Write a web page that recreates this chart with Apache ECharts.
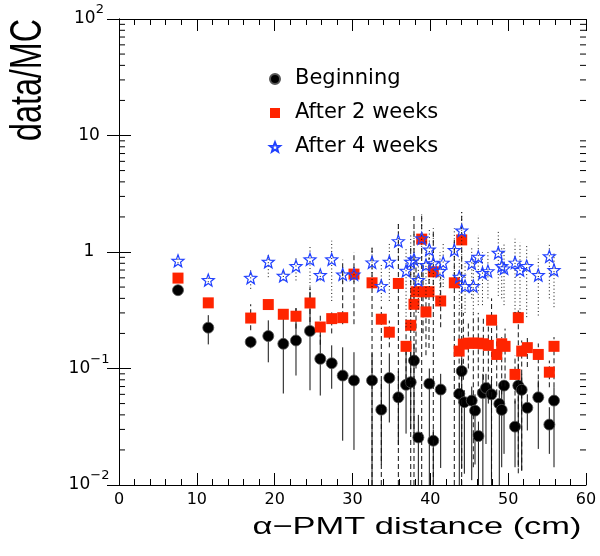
<!DOCTYPE html>
<html><head><meta charset="utf-8">
<script src="https://cdn.jsdelivr.net/npm/echarts@6/dist/echarts.min.js"></script>
<style>html,body{margin:0;padding:0;background:#fff}#c{width:600px;height:556px}</style>
</head><body><div id="c"></div>
<script>
// ---- data ----
const seriesNames = ['Beginning', 'After 2 weeks', 'After 4 weeks'];

const begX  = [7.58,11.47,16.92,19.18,21.11,22.74,24.54,25.86,27.33,28.74,30.19,32.51,33.70,34.73,35.89,36.88,37.48,37.90,38.46,39.87,40.38,41.33,43.72,44.03,44.37,45.32,45.74,46.18,46.75,47.15,47.85,48.86,49.17,49.47,50.88,51.30,51.74,52.46,53.87,55.29,55.89];
const begY  = [0.47,0.224,0.169,0.19,0.163,0.174,0.21,0.121,0.111,0.087,0.079,0.079,0.0443,0.083,0.0566,0.0724,0.0763,0.117,0.0256,0.0741,0.024,0.066,0.0606,0.095,0.0514,0.053,0.0435,0.0263,0.0616,0.068,0.060,0.0497,0.0441,0.0713,0.0317,0.0713,0.0656,0.046,0.0566,0.033,0.053];
const begLo = [0.44,0.161,0.149,0.113,0.061,0.087,0.065,0.0586,0.067,0.024,0.02,0.01,0.015,0.0344,0.022,0.0276,0.03,0.0276,0.01,0.01,0.01,0.014,0.01,0.014,0.0125,0.011,0.015,0.01,0.01,0.0225,0.011,0.01,0.0142,0.0185,0.0142,0.0142,0.0133,0.0294,0.0204,0.0185,0.0142];
const begHi = [0.50,0.287,0.187,0.259,0.27,0.329,0.455,0.193,0.158,0.152,0.138,0.135,0.079,0.135,0.095,0.152,0.14,0.164,0.04,0.10,0.03,0.09,0.075,0.125,0.065,0.07,0.06,0.035,0.09,0.09,0.079,0.065,0.065,0.079,0.053,0.11,0.09,0.06,0.079,0.0465,0.069];

const wk2X  = [7.58,11.47,16.92,19.18,21.11,22.74,24.54,25.86,27.33,28.74,30.19,32.51,33.70,34.73,35.89,36.88,37.48,37.90,38.16,38.89,39.06,39.44,39.83,40.38,41.33,43.08,44.03,43.70,44.24,44.88,45.52,46.16,46.81,47.45,47.87,48.53,49.17,49.60,50.88,51.30,51.74,52.46,53.87,55.29,55.89];
const wk2Y  = [0.597,0.366,0.271,0.354,0.292,0.281,0.365,0.227,0.268,0.273,0.646,0.544,0.265,0.205,0.537,0.155,0.235,0.356,0.456,1.29,0.456,0.306,0.456,0.676,0.38,0.544,1.27,0.141,0.162,0.165,0.165,0.165,0.163,0.158,0.26,0.132,0.163,0.155,0.089,0.273,0.141,0.151,0.132,0.093,0.155];
const wk2Lo = [0.57,0.34,0.213,0.33,0.27,0.22,0.25,0.16,0.2,0.24,0.24,0.01,0.01,0.152,0.01,0.069,0.01,0.01,0.1,0.01,0.2,0.13,0.15,0.01,0.226,0.01,0.01,0.05,0.08,0.1,0.0142,0.06,0.08,0.05,0.01,0.06,0.06,0.07,0.05,0.0126,0.0133,0.103,0.069,0.069,0.069];
const wk2Hi = [0.62,0.39,0.356,0.38,0.31,0.33,0.5,0.30,0.32,0.86,1.0,1.1,0.34,0.258,1.8,0.243,1.1,2.1,0.9,2.1,0.8,0.5,0.9,1.6,0.61,1.3,2.2,0.3,0.3,0.25,0.297,0.3,0.28,0.25,0.4,0.25,0.186,0.22,0.13,0.315,0.174,0.186,0.164,0.117,0.186];

const wk4X  = [7.58,11.47,16.92,19.18,21.11,22.74,24.54,25.86,27.33,28.74,30.19,32.51,33.70,34.73,35.89,36.88,37.48,37.90,38.46,38.89,39.44,39.87,40.38,41.24,41.65,43.08,44.03,43.72,44.46,45.32,45.52,46.16,46.70,47.40,48.73,49.17,49.47,50.88,51.52,52.38,53.87,55.29,55.89];
const wk4Y  = [0.841,0.574,0.60,0.825,0.625,0.757,0.865,0.634,0.865,0.642,0.642,0.815,0.512,0.825,1.24,0.69,0.825,0.865,0.574,1.31,0.773,1.05,0.80,0.686,0.81,1.04,1.53,0.613,0.51,0.80,0.51,0.91,0.66,0.685,0.986,0.757,0.723,0.81,0.70,0.757,0.634,0.92,0.70];
const wk4Lo = [0.80,0.55,0.483,0.608,0.57,0.57,0.44,0.57,0.38,0.55,0.55,0.50,0.38,0.38,0.85,0.226,0.21,0.4,0.3,0.9,0.4,0.5,0.4,0.35,0.5,0.6,0.31,0.3,0.3,0.4,0.3,0.35,0.35,0.4,0.42,0.4,0.35,0.3,0.3,0.276,0.285,0.4,0.336];
const wk4Hi = [0.88,0.60,0.694,0.965,0.68,0.90,1.14,0.69,1.25,0.75,0.75,1.1,0.80,1.18,1.8,1.1,1.44,1.6,0.9,2.1,1.3,1.6,1.5,1.0,1.2,1.6,2.2,0.9,0.8,1.1,0.9,1.4,1.0,1.0,1.53,1.1,1.2,1.3,1.2,1.18,0.93,1.2,1.0];

const xMin = 0, xMax = 60, xStep = 10;
const yMin = 0.01, yMax = 100;
const yTickLabels = [['10','\u22122'], ['10','\u22121'], ['1',''], ['10',''], ['10','2']];
const xTitle = '\u03b1\u2212PMT distance (cm)';
const yTitle = 'data/MC';

// ---- chart ----
const FONT = 'DejaVu Sans';
const starPath = 'path://M12,2 L14.47,8.6 L21.51,8.91 L15.99,13.3 L17.88,20.09 L12,16.2 L6.12,20.09 L8.01,13.3 L2.49,8.91 L9.53,8.6 Z';

// log-axis minor ticks (2..9 x 10^k)
const yMinor = [];
for (let k = -2; k <= 1; k++) for (let m = 2; m <= 9; m++) yMinor.push(m * Math.pow(10, k));

function errSeries(name, xs, lo, hi, dash, z) {
  return {
    type: 'custom', name: name, silent: true, clip: true, z: z,
    data: xs.map((x, i) => [x, lo[i], hi[i]]),
    encode: { x: 0, y: [1, 2] },
    renderItem: function (params, api) {
      const a = api.coord([api.value(0), api.value(1)]);
      const b = api.coord([api.value(0), api.value(2)]);
      return { type: 'line', shape: { x1: a[0], y1: a[1], x2: b[0], y2: b[1] },
        style: { stroke: '#111', lineWidth: 1, lineDash: dash } };
    }
  };
}

const measure = document.createElement('canvas').getContext('2d');
measure.font = '24px "Liberation Sans"';
const xTitleW = measure.measureText(xTitle).width;
measure.font = '32px "Liberation Sans"';
const yTitleW = measure.measureText(yTitle).width;

const tickStyle = { color: '#000', width: 1 };
const chart = echarts.init(document.getElementById('c'), null, { renderer: 'canvas' });
chart.setOption({
  animation: false,
  backgroundColor: '#fff',
  grid: { left: 119, right: 14, top: 19, bottom: 71 },
  legend: {
    data: [
      { name: seriesNames[0], icon: 'circle' },
      { name: seriesNames[1], icon: 'rect' },
      { name: seriesNames[2], icon: starPath }
    ],
    orient: 'vertical', left: 269, top: 67, padding: 0, itemGap: 10,
    itemWidth: 10, itemHeight: 10, selectedMode: false,
    textStyle: { fontFamily: FONT, fontSize: 21, color: '#000', lineHeight: 24, padding: [0, 0, 0, 10] }
  },
  xAxis: [
    { type: 'value', min: xMin, max: xMax, interval: xStep,
      axisLine: { lineStyle: tickStyle },
      axisTick: { inside: true, length: 12, lineStyle: tickStyle },
      minorTick: { show: true, splitNumber: 5, length: 6, lineStyle: tickStyle },
      splitLine: { show: false }, minorSplitLine: { show: false },
      axisLabel: { fontFamily: FONT, fontSize: 16, color: '#000', margin: 7 } },
    { type: 'value', position: 'top', min: xMin, max: xMax, interval: xStep,
      axisLine: { lineStyle: tickStyle },
      axisTick: { inside: true, length: 12, lineStyle: tickStyle },
      minorTick: { show: true, splitNumber: 5, length: 6, lineStyle: tickStyle },
      splitLine: { show: false }, axisLabel: { show: false } }
  ],
  yAxis: [
    { type: 'log', logBase: 10, min: yMin, max: yMax,
      axisLine: { lineStyle: tickStyle },
      axisTick: { inside: true, length: 12, lineStyle: tickStyle },
      splitLine: { show: false },
      axisLabel: {
        align: 'center', margin: 30,
        formatter: function (v) {
          const e = Math.round(Math.log10(v));
          const t = yTickLabels[e + 2];
          return t[1] ? '{b|' + t[0] + '}{s|' + t[1] + '}' : '{b|' + t[0] + '}';
        },
        rich: {
          b: { fontFamily: FONT, fontSize: 17, color: '#000', lineHeight: 20 },
          s: { fontFamily: FONT, fontSize: 13, color: '#000', lineHeight: 20, padding: [0, 0, 18, 0] }
        }
      } },
    { type: 'log', logBase: 10, min: yMin, max: yMax, position: 'right',
      axisLine: { lineStyle: tickStyle },
      axisTick: { inside: true, length: 12, lineStyle: tickStyle },
      splitLine: { show: false }, axisLabel: { show: false } }
  ],
  graphic: [
    { type: 'text', x: 417, y: 527, scaleX: 329 / xTitleW, silent: true,
      style: { text: xTitle, font: '24px "Liberation Sans"', fill: '#000',
        align: 'center', verticalAlign: 'middle', textAlign: 'center', textVerticalAlign: 'middle' } },
    { type: 'text', x: 29, y: 80, rotation: Math.PI / 2, scaleX: 122 / yTitleW, scaleY: 1.4, silent: true,
      style: { text: yTitle, font: '32px "Liberation Sans"', fill: '#000',
        align: 'center', verticalAlign: 'middle', textAlign: 'center', textVerticalAlign: 'middle' } }
  ],
  series: [
    { type: 'custom', name: 'minorY', silent: true, z: 1,
      data: yMinor.map(v => [xMin, v]), encode: { x: 0, y: 1 },
      renderItem: function (params, api) {
        const v = api.value(1);
        const l = api.coord([xMin, v]), r = api.coord([xMax, v]);
        return { type: 'group', children: [
          { type: 'line', shape: { x1: l[0], y1: l[1], x2: l[0] + 6, y2: l[1] }, style: { stroke: '#000', lineWidth: 1 } },
          { type: 'line', shape: { x1: r[0] - 6, y1: r[1], x2: r[0], y2: r[1] }, style: { stroke: '#000', lineWidth: 1 } }
        ] };
      } },
    errSeries('errBeg', begX, begLo, begHi, null, 2),
    { type: 'scatter', name: seriesNames[0], symbol: 'circle', symbolSize: 11, z: 3,
      itemStyle: { color: '#000', borderColor: '#555', borderWidth: 0.8, opacity: 1 },
      data: begX.map((x, i) => [x, begY[i]]) },
    errSeries('errWk2', wk2X, wk2Lo, wk2Hi, [5, 3], 4),
    { type: 'scatter', name: seriesNames[1], symbol: 'rect', symbolSize: 11, z: 5,
      itemStyle: { color: '#ff2400', opacity: 1 },
      data: wk2X.map((x, i) => [x, wk2Y[i]]) },
    errSeries('errWk4', wk4X, wk4Lo, wk4Hi, [1, 2.5], 6),
    { type: 'scatter', name: seriesNames[2], symbol: starPath, symbolSize: 12, z: 7,
      itemStyle: { color: 'rgba(255,255,255,0)', borderColor: '#2040ff', borderWidth: 1.2, opacity: 1 },
      data: wk4X.map((x, i) => [x, wk4Y[i]]) }
  ]
});
</script>
</body></html>
